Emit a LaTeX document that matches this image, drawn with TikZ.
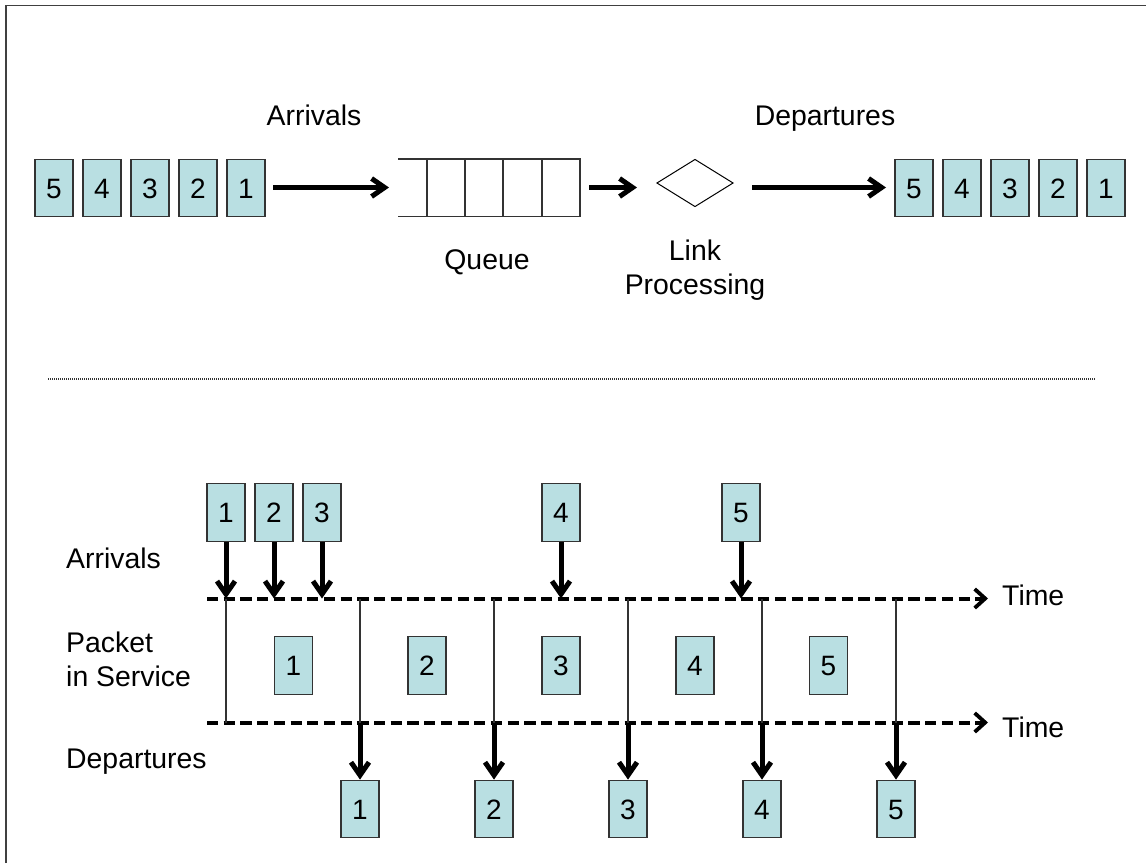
\documentclass[tikz,border=0pt]{standalone}
\usepackage{fontspec}
\setmainfont{Liberation Sans}
\usetikzlibrary{arrows.meta,shapes.geometric}
\definecolor{pkt}{HTML}{B9DFE2}
\definecolor{edge}{HTML}{333333}
\tikzset{
  pkt/.style={draw=edge,line width=1.3pt,fill=pkt,minimum width=38pt,minimum height=57.5pt,inner sep=0pt,text height=20pt,text depth=0pt,font=\fontsize{28}{30}\selectfont},
  lbl/.style={inner sep=0pt,anchor=base,font=\fontsize{28.4}{34}\selectfont},
  lblL/.style={lbl,anchor=base west},
  thick arrow/.style={line width=5pt,-{Straight Barb[length=13pt,width=18pt,line width=5pt]}},
  time line/.style={line width=4pt,dash pattern=on 11.2pt off 5.5pt,-{Straight Barb[length=10.5pt,width=19pt,line width=3.8pt]}},
  thin/.style={draw=edge,line width=1.1pt}
}
\begin{document}
\begin{tikzpicture}[x=1pt,y=-1pt]
\useasboundingbox (0,0) rectangle (1146,863);
\fill[white] (0,0) rectangle (1146,863);
\coordinate (ftl) at (6,5.5); \coordinate (ftr) at (1146,5.5); \coordinate (fbl) at (6,863);
\draw[draw=black!75,line width=1.5pt] (fbl) -- (ftl) -- (ftr);
% top row
\foreach \n/\x in {5/54,4/102,3/150,2/198,1/246}
  \node[pkt] (a\n) at (\x,188) {\n};
\foreach \n/\x in {5/914,4/962,3/1010,2/1058,1/1106}
  \node[pkt] (d\n) at (\x,188) {\n};
% queue
\coordinate (qtl) at (398,159); \coordinate (qbl) at (398,216.5);
\coordinate (qtr) at (580,159); \coordinate (qbr) at (580,216.5);
\node[minimum width=182pt,minimum height=57.5pt,inner sep=0pt] (queue) at (489,187.75) {};
\draw[thin] (qtl) -- (qtr) -- (qbr) -- (qbl);
\foreach \x in {427,465,503,542}
  \draw[thin] (\x,159) -- (\x,216.5);
\node[diamond,draw=black,line width=1pt,minimum width=76.5pt,minimum height=47.5pt,aspect=1.61,inner sep=0pt] (link) at (695,183) {};
\coordinate (aend) at (389,187.5); \coordinate (qs) at (589,187.5); \coordinate (qe) at (637,187.5);
\coordinate (ls) at (752,187.5); \coordinate (le) at (886,187.5); \coordinate (as) at (273,187.5);
\draw[thick arrow] (as) -- (aend);
\draw[thick arrow] (qs) -- (qe);
\draw[thick arrow] (ls) -- (le);
\node[lbl] (tArr) at (314,125.5) {Arrivals};
\node[lbl] (tDep) at (825,125.5) {Departures};
\node[lbl] (tQ) at (487,269.5) {Queue};
\node[lbl] (tL) at (695,260) {Link};
\node[lbl] (tP) at (695,294) {Processing};
% separator
\coordinate (s1) at (48,379); \coordinate (s2) at (1096,379);
\draw[line width=1.2pt,draw=black!80,dash pattern=on 1pt off 1pt] (s1) -- (s2);
% time lines
\coordinate (t1s) at (207,598.5); \coordinate (t1e) at (988,598.5);
\coordinate (t2s) at (207,722.5); \coordinate (t2e) at (988,722.5);
\foreach \n/\x in {1/226,2/274,3/322,4/561,5/741}{
  \node[pkt] (in\n) at (\x,512.5) {\n};
  \coordinate (inE\n) at (\x,598.5);
  \draw[thick arrow] (in\n.south) -- (inE\n);
}
\foreach \n/\x in {1/293.5,2/427,3/561,4/695,5/828.5}
  \node[pkt] (sv\n) at (\x,665.5) {\n};
\draw[time line] (t1s) -- (t1e);
\draw[time line] (t2s) -- (t2e);
\foreach \n/\x in {0/226,1/360,2/494,3/628,4/762,5/896}{
  \coordinate (u\n) at (\x,598.5);
  \coordinate (v\n) at (\x,722.5);
  \draw[thin] (u\n) -- (v\n);
}
\foreach \n/\x in {1/360,2/494,3/628,4/762,5/896}{
  \node[pkt] (out\n) at (\x,809) {\n};
  \draw[thick arrow] (v\n) -- (out\n.north);
}
\node[lblL] (lArr) at (66,568) {Arrivals};
\node[lblL] (lPkt) at (66,652) {Packet};
\node[lblL] (lSvc) at (66,686) {in Service};
\node[lblL] (lDep) at (66,768) {Departures};
\node[lblL] (lT1) at (1002,605.5) {Time};
\node[lblL] (lT2) at (1002,737) {Time};
\end{tikzpicture}
\end{document}
